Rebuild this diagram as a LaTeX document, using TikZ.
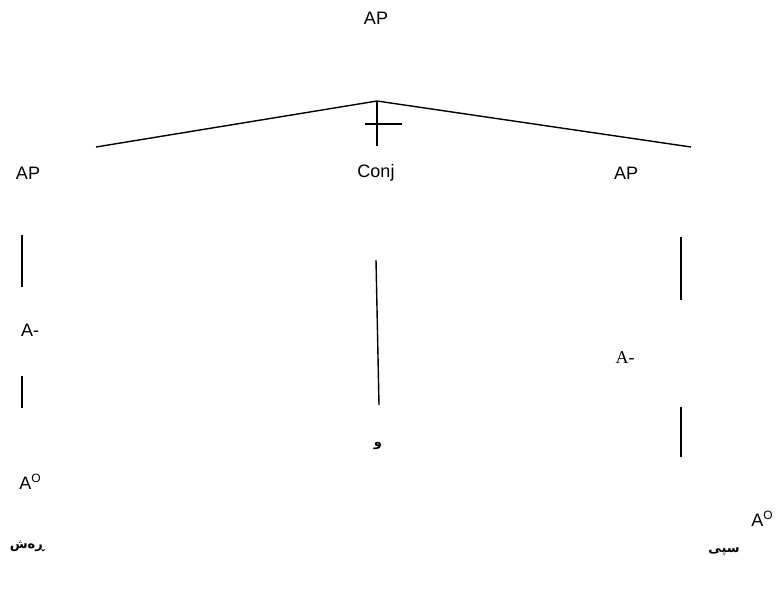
\documentclass[tikz,border=0pt]{standalone}
\usepackage{fontspec}
\setmainfont{Liberation Sans}
\newfontfamily\serifA{Liberation Serif}
\newfontfamily\kurdfont[Script=Arabic]{DejaVu Sans}
\TeXXeTstate=1
\newcommand{\supO}{\raisebox{7pt}{\fontsize{12}{12}\selectfont O}}
\begin{document}
\begin{tikzpicture}[x=1pt,y=-1pt,inner sep=0pt,outer sep=0pt,line width=1.4pt,
cat/.style={font=\fontsize{18}{20}\selectfont},
catserif/.style={font=\serifA\fontsize{18}{20}\selectfont},
word/.style={font=\kurdfont\bfseries\fontsize{13}{15}\selectfont}]
\useasboundingbox (0,0) rectangle (779,590);

% labels
\draw (376,18) node[cat] (ap) {AP};
\draw (28,173) node[cat] (apL) {AP};
\draw (376,173) node[cat] (conj) {Conj};
\draw (626,173) node[cat] (apR) {AP};
\draw (30,330) node[cat] (amL) {A-};
\draw (625,358) node[catserif] (amR) {A-};
\draw (30,482) node[cat] (aoL) {A\supO};
\draw (762,519) node[cat] (aoR) {A\supO};
\draw (378,446) node[word] (wa) {\beginR و\endR};
\draw (27,546) node[word] (resh) {\beginR ڕەش\endR};
\draw (724,552) node[word] (spi) {\beginR سپی\endR};

% branch ends
\coordinate (apex) at (377,101);
\coordinate (brL) at (96,147);
\coordinate (brR) at (691,147);
\coordinate (stem) at (377,146);
\coordinate (barL) at (365,124);
\coordinate (barR) at (402,124);
\coordinate (l1a) at (22,235);  \coordinate (l1b) at (22,287);
\coordinate (l2a) at (22,376);  \coordinate (l2b) at (22,408);
\coordinate (m1a) at (376,260); \coordinate (m1b) at (379,405);
\coordinate (r1a) at (681,237); \coordinate (r1b) at (681,300);
\coordinate (r2a) at (681,407); \coordinate (r2b) at (681,457);

\draw (brL) -- (apex) -- (brR);
\draw (apex) -- (stem);
\draw (barL) -- (barR);
\draw (l1a) -- (l1b);
\draw (l2a) -- (l2b);
\draw (m1a) -- (m1b);
\draw (r1a) -- (r1b);
\draw (r2a) -- (r2b);
\end{tikzpicture}
\end{document}
